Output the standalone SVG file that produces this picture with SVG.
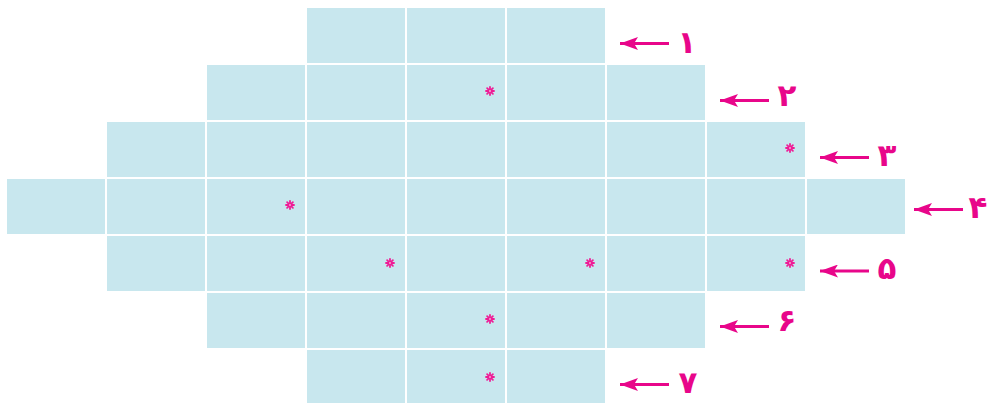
<svg xmlns="http://www.w3.org/2000/svg" width="987" height="403" viewBox="0 0 987 403">
<style>
.c{fill:#c8e7ee}
.a{stroke:#e8068a;stroke-width:3;fill:none}
.h{fill:#e8068a}
.t{font-family:"DejaVu Sans",sans-serif;font-weight:bold;font-size:31px;fill:#e8068a;text-anchor:middle}
.s{stroke:#ee1c96;stroke-width:1.8;stroke-linecap:round}
</style>
<defs>
<g id="star">
<line class="s" x1="-4" y1="0" x2="4" y2="0"/>
<line class="s" x1="0" y1="-4" x2="0" y2="4"/>
<line class="s" x1="-2.9" y1="-2.9" x2="2.9" y2="2.9"/>
<line class="s" x1="-2.9" y1="2.9" x2="2.9" y2="-2.9"/>
<circle r="1" fill="#f7a8d2"/>
</g>
<marker id="ah" markerWidth="18" markerHeight="13" refX="18" refY="6.5" orient="auto" markerUnits="userSpaceOnUse">
<path d="M0,0 L18,6.5 L0,13 L4,6.5 Z" class="h"/>
</marker>
</defs>
<g id="row1">
<rect class="c" x="307" y="8" width="98" height="55"/>
<rect class="c" x="407" y="8" width="98" height="55"/>
<rect class="c" x="507" y="8" width="98" height="55"/>
</g>
<g id="row2">
<rect class="c" x="207" y="65" width="98" height="55"/>
<rect class="c" x="307" y="65" width="98" height="55"/>
<rect class="c" x="407" y="65" width="98" height="55"/>
<rect class="c" x="507" y="65" width="98" height="55"/>
<rect class="c" x="607" y="65" width="98" height="55"/>
<use href="#star" x="490" y="91"/>
</g>
<g id="row3">
<rect class="c" x="107" y="122" width="98" height="55"/>
<rect class="c" x="207" y="122" width="98" height="55"/>
<rect class="c" x="307" y="122" width="98" height="55"/>
<rect class="c" x="407" y="122" width="98" height="55"/>
<rect class="c" x="507" y="122" width="98" height="55"/>
<rect class="c" x="607" y="122" width="98" height="55"/>
<rect class="c" x="707" y="122" width="98" height="55"/>
<use href="#star" x="790" y="148"/>
</g>
<g id="row4">
<rect class="c" x="7" y="179" width="98" height="55"/>
<rect class="c" x="107" y="179" width="98" height="55"/>
<rect class="c" x="207" y="179" width="98" height="55"/>
<rect class="c" x="307" y="179" width="98" height="55"/>
<rect class="c" x="407" y="179" width="98" height="55"/>
<rect class="c" x="507" y="179" width="98" height="55"/>
<rect class="c" x="607" y="179" width="98" height="55"/>
<rect class="c" x="707" y="179" width="98" height="55"/>
<rect class="c" x="807" y="179" width="98" height="55"/>
<use href="#star" x="290" y="205"/>
</g>
<g id="row5">
<rect class="c" x="107" y="236" width="98" height="55"/>
<rect class="c" x="207" y="236" width="98" height="55"/>
<rect class="c" x="307" y="236" width="98" height="55"/>
<rect class="c" x="407" y="236" width="98" height="55"/>
<rect class="c" x="507" y="236" width="98" height="55"/>
<rect class="c" x="607" y="236" width="98" height="55"/>
<rect class="c" x="707" y="236" width="98" height="55"/>
<use href="#star" x="390" y="263"/>
<use href="#star" x="590" y="263"/>
<use href="#star" x="790" y="263"/>
</g>
<g id="row6">
<rect class="c" x="207" y="293" width="98" height="55"/>
<rect class="c" x="307" y="293" width="98" height="55"/>
<rect class="c" x="407" y="293" width="98" height="55"/>
<rect class="c" x="507" y="293" width="98" height="55"/>
<rect class="c" x="607" y="293" width="98" height="55"/>
<use href="#star" x="490" y="319"/>
</g>
<g id="row7">
<rect class="c" x="307" y="350" width="98" height="55"/>
<rect class="c" x="407" y="350" width="98" height="55"/>
<rect class="c" x="507" y="350" width="98" height="55"/>
<use href="#star" x="490" y="377"/>
</g>
<g id="connectors">
<line class="a" x1="669" y1="43.5" x2="620" y2="43.5" marker-end="url(#ah)"/>
<line class="a" x1="769" y1="100.5" x2="720" y2="100.5" marker-end="url(#ah)"/>
<line class="a" x1="869" y1="157.5" x2="820" y2="157.5" marker-end="url(#ah)"/>
<line class="a" x1="963" y1="209.5" x2="914" y2="209.5" marker-end="url(#ah)"/>
<line class="a" x1="869" y1="271" x2="820" y2="271" marker-end="url(#ah)"/>
<line class="a" x1="769" y1="326.5" x2="720" y2="326.5" marker-end="url(#ah)"/>
<line class="a" x1="669" y1="384.5" x2="620" y2="384.5" marker-end="url(#ah)"/>
</g>
<g id="labels">
<text class="t" x="687" y="53">۱</text>
<text class="t" x="787" y="106">۲</text>
<text class="t" x="887" y="166">۳</text>
<text class="t" x="978" y="218">۴</text>
<text class="t" x="887" y="279">۵</text>
<text class="t" x="787" y="331">۶</text>
<text class="t" x="688" y="393">۷</text>
</g>
</svg>
